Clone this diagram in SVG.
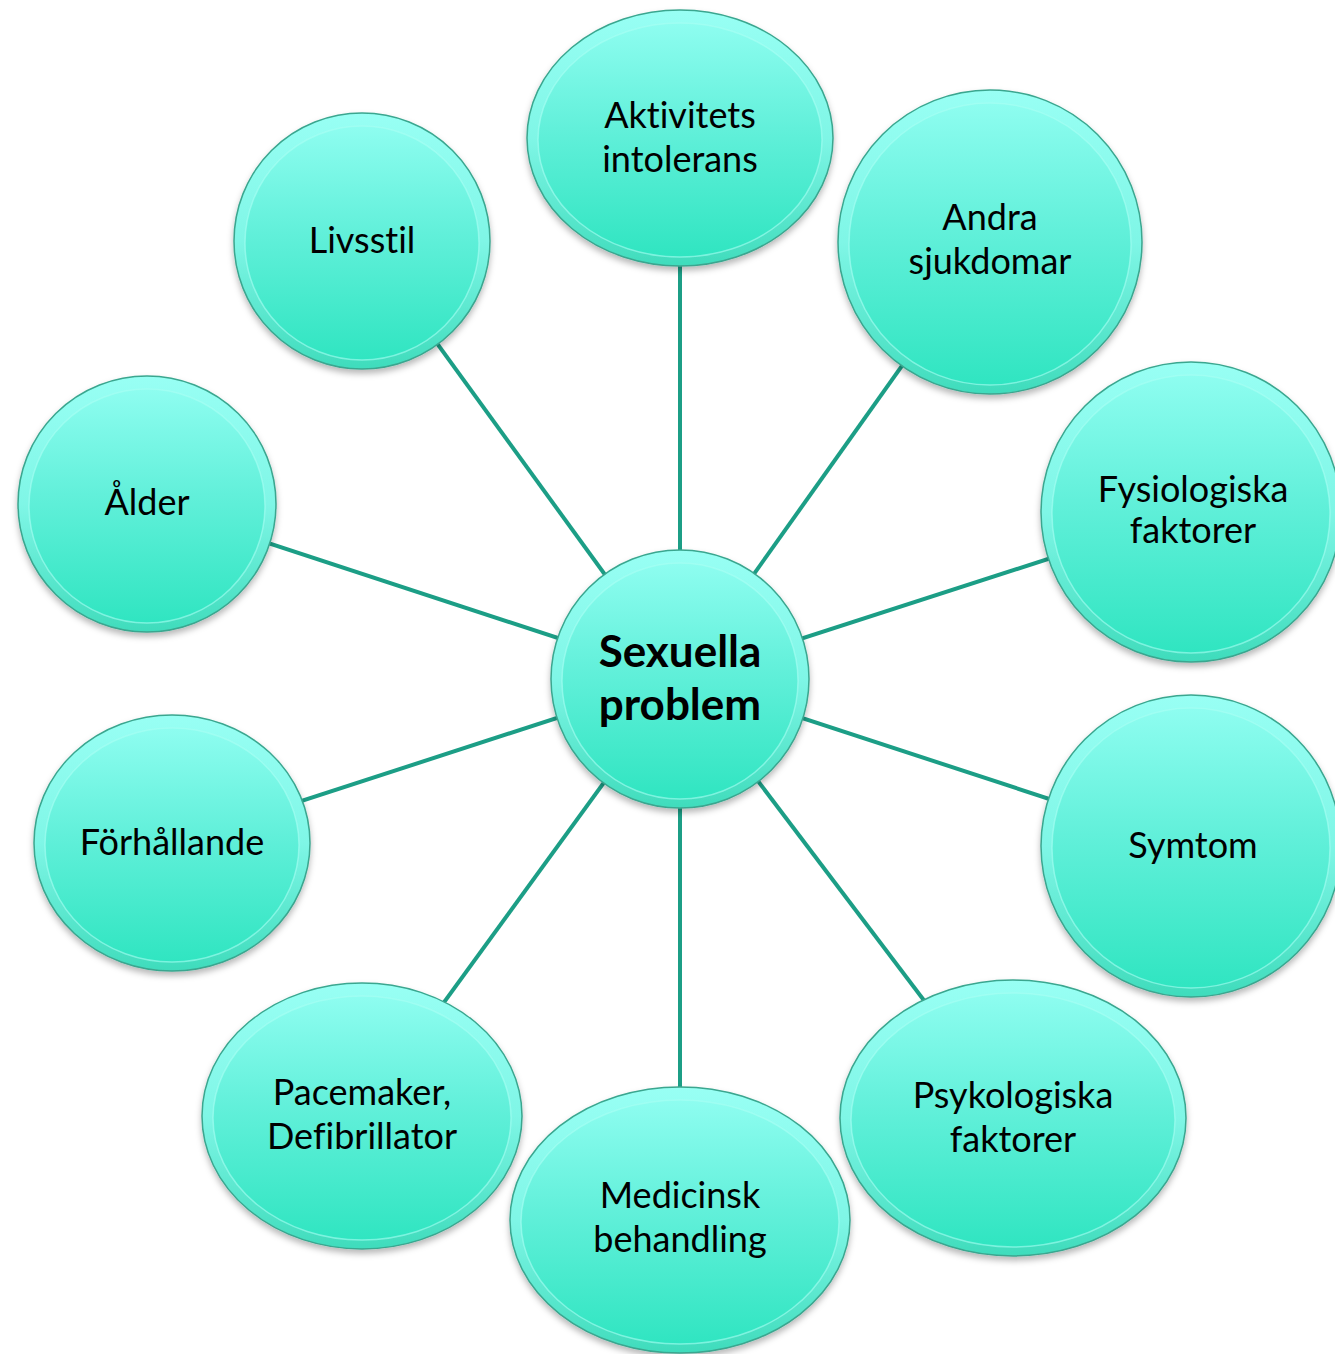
<svg xmlns="http://www.w3.org/2000/svg" width="1335" height="1354" viewBox="0 0 1335 1354">
<defs>
<linearGradient id="g" x1="0" y1="0" x2="0" y2="1">
<stop offset="0" stop-color="#8efdf0"/>
<stop offset="0.45" stop-color="#62f0da"/>
<stop offset="1" stop-color="#30e5c1"/>
</linearGradient>
<linearGradient id="rim" x1="0" y1="0" x2="0" y2="1">
<stop offset="0" stop-color="#98fff4"/>
<stop offset="0.5" stop-color="#7ff6e6"/>
<stop offset="1" stop-color="#3fdcbc"/>
</linearGradient>
<filter id="sh" x="-20%" y="-20%" width="140%" height="140%">
<feDropShadow dx="0" dy="4" stdDeviation="3" flood-color="#000" flood-opacity="0.28"/>
</filter>
</defs>
<style>
.o{fill:url(#rim);stroke:#3aa68f;stroke-width:1.5;filter:url(#sh)}
.i{fill:url(#g);stroke:#a8fff3;stroke-width:1.5;stroke-opacity:0.6}
.t{font-family:Lato,"Open Sans",sans-serif;font-size:36px;fill:#000;text-anchor:middle;font-variant-ligatures:none;font-feature-settings:"liga" 0,"clig" 0,"dlig" 0,"calt" 0}
.b{font-weight:bold;font-size:44px}
.c line{stroke:#1c9e86;stroke-width:4}
</style>
<rect width="1335" height="1354" fill="#fff"/>
<g id="connectors" class="c">
<line x1="680" y1="678" x2="680" y2="138"/>
<line x1="680" y1="678" x2="990" y2="242"/>
<line x1="680" y1="678" x2="1193" y2="512"/>
<line x1="680" y1="678" x2="1193" y2="846"/>
<line x1="680" y1="678" x2="1013" y2="1118"/>
<line x1="680" y1="678" x2="680" y2="1220"/>
<line x1="680" y1="678" x2="362" y2="1115"/>
<line x1="680" y1="678" x2="172" y2="843"/>
<line x1="680" y1="678" x2="146" y2="503"/>
<line x1="680" y1="678" x2="362" y2="240"/>
</g>
<g id="n-aktivitets">
<ellipse class="o" cx="680" cy="138" rx="153" ry="128"/>
<ellipse class="i" cx="680" cy="140" rx="142" ry="117"/>
<text class="t" x="680" y="128">Aktivitets</text>
<text class="t" x="680" y="172">intolerans</text>
</g>
<g id="n-andra">
<ellipse class="o" cx="990" cy="242" rx="152" ry="152"/>
<ellipse class="i" cx="990" cy="244" rx="141" ry="141"/>
<text class="t" x="990" y="230">Andra</text>
<text class="t" x="990" y="274">sjukdomar</text>
</g>
<g id="n-fysiologiska">
<ellipse class="o" cx="1191" cy="512" rx="150" ry="150"/>
<ellipse class="i" cx="1191" cy="514" rx="139" ry="139"/>
<text class="t" x="1193" y="502">Fysiologiska</text>
<text class="t" x="1193" y="543">faktorer</text>
</g>
<g id="n-symtom">
<ellipse class="o" cx="1191" cy="846" rx="150" ry="151"/>
<ellipse class="i" cx="1191" cy="848" rx="139" ry="140"/>
<text class="t" x="1193" y="858">Symtom</text>
</g>
<g id="n-psykologiska">
<ellipse class="o" cx="1013" cy="1118" rx="173" ry="138"/>
<ellipse class="i" cx="1013" cy="1120" rx="162" ry="127"/>
<text class="t" x="1013" y="1108">Psykologiska</text>
<text class="t" x="1013" y="1152">faktorer</text>
</g>
<g id="n-medicinsk">
<ellipse class="o" cx="680" cy="1220" rx="170" ry="133"/>
<ellipse class="i" cx="680" cy="1222" rx="159" ry="122"/>
<text class="t" x="680" y="1208">Medicinsk</text>
<text class="t" x="680" y="1252">behandling</text>
</g>
<g id="n-pacemaker">
<ellipse class="o" cx="362" cy="1116" rx="160" ry="133"/>
<ellipse class="i" cx="362" cy="1118" rx="149" ry="122"/>
<text class="t" x="362" y="1105">Pacemaker,</text>
<text class="t" x="362" y="1149">Defibrillator</text>
</g>
<g id="n-forhallande">
<ellipse class="o" cx="172" cy="843" rx="138" ry="128"/>
<ellipse class="i" cx="172" cy="845" rx="127" ry="117"/>
<text class="t" x="172" y="855">Förhållande</text>
</g>
<g id="n-alder">
<ellipse class="o" cx="147" cy="504" rx="129" ry="128"/>
<ellipse class="i" cx="147" cy="506" rx="118" ry="117"/>
<text class="t" x="147" y="515">Ålder</text>
</g>
<g id="n-livsstil">
<ellipse class="o" cx="362" cy="241" rx="128" ry="128"/>
<ellipse class="i" cx="362" cy="243" rx="117" ry="117"/>
<text class="t" x="362" y="253">Livsstil</text>
</g>
<g id="n-center">
<ellipse class="o" cx="680" cy="679" rx="129" ry="129"/>
<ellipse class="i" cx="680" cy="681" rx="118" ry="118"/>
<text class="t b" x="680" y="667">Sexuella</text>
<text class="t b" x="680" y="720">problem</text>
</g>
</svg>
